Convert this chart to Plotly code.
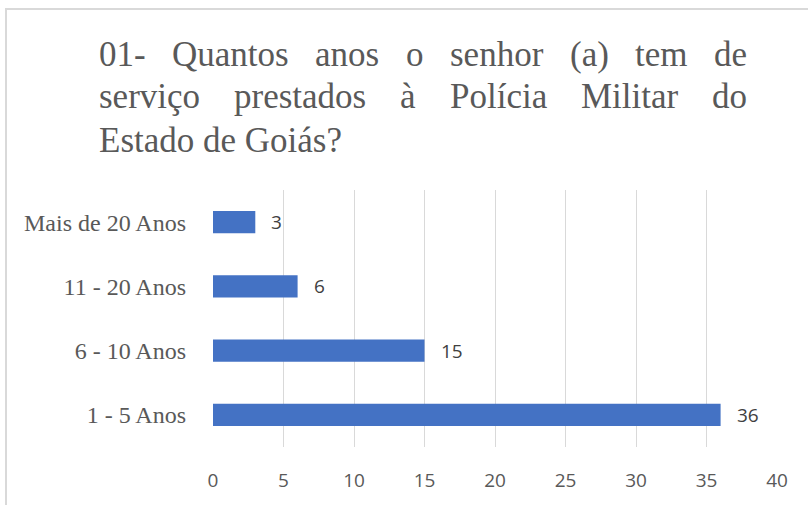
import plotly.graph_objects as go

categories = ["1 - 5 Anos", "6 - 10 Anos", "11 - 20 Anos", "Mais de 20 Anos"]
values = [36, 15, 6, 3]
x_ticks = [0, 5, 10, 15, 20, 25, 30, 35, 40]
title_lines = [
    "01- Quantos anos o senhor (a) tem de",
    "serviço prestados à Polícia Militar do",
    "Estado de Goiás?",
]

W, H = 808, 505
PL, PR, PT, PB = 213, 777, 190, 447  # plot area in px


def px_x(px):
    return (px - PL) / (PR - PL)


def px_y(py):
    return (PB - py) / (PB - PT)


fig = go.Figure()
fig.add_trace(go.Bar(
    y=categories, x=values, orientation="h",
    marker=dict(color="#4472C4", line=dict(width=0)),
    width=0.35, hoverinfo="skip",
))

annotations = []
for c, v in zip(categories, values):
    annotations.append(dict(
        x=v, y=c, xref="x", yref="y", text=str(v), showarrow=False,
        xanchor="left", yanchor="middle", xshift=14,
        font=dict(family="Open Sans, Liberation Sans, sans-serif", size=19, color="#404040"),
    ))

# justified title: word left positions (px) per line
word_x = [
    [97, 170.2, 313.3, 404.0, 448.0, 567.7, 633.1, 712.1],
    [97, 232.1, 398.3, 447.8, 579.0, 710.2],
    [97],
]
line_centers = [54, 97, 140]
for line, xs, cy in zip(title_lines, word_x, line_centers):
    words = line.split(" ") if len(xs) > 1 else [line]
    for w, xp in zip(words, xs):
        annotations.append(dict(
            x=px_x(xp), y=px_y(cy), xref="paper", yref="paper", text=w,
            showarrow=False, xanchor="left", yanchor="middle",
            font=dict(family="Liberation Serif, Times New Roman, serif", size=35, color="#595959"),
        ))

fig.update_layout(
    width=W, height=H,
    margin=dict(l=PL, r=W - PR, t=PT, b=H - PB, pad=0),
    paper_bgcolor="white", plot_bgcolor="white",
    showlegend=False,
    annotations=annotations,
    shapes=[dict(
        type="rect", xref="paper", yref="paper",
        x0=px_x(6), x1=px_x(830), y0=px_y(9), y1=px_y(530),
        line=dict(color="#D9D9D9", width=2), fillcolor="rgba(0,0,0,0)", layer="below",
    )],
    xaxis=dict(
        range=[0, 40], tickvals=x_ticks, showgrid=True, gridcolor="#D9D9D9", gridwidth=1,
        zeroline=False, showline=False, ticks="",
        tickfont=dict(family="Open Sans, Liberation Sans, sans-serif", size=19, color="#595959"),
        ticklabelstandoff=20, fixedrange=True,
    ),
    yaxis=dict(
        categoryorder="array", categoryarray=categories,
        showgrid=False, zeroline=False, showline=False, ticks="",
        tickfont=dict(family="Liberation Serif, Times New Roman, serif", size=24, color="#595959"),
        ticklabelstandoff=26, fixedrange=True,
    ),
)

fig.write_html(
    "out.html",
    config={"displayModeBar": False},
    post_script="document.body.style.margin='0';document.body.style.overflow='hidden';",
)
